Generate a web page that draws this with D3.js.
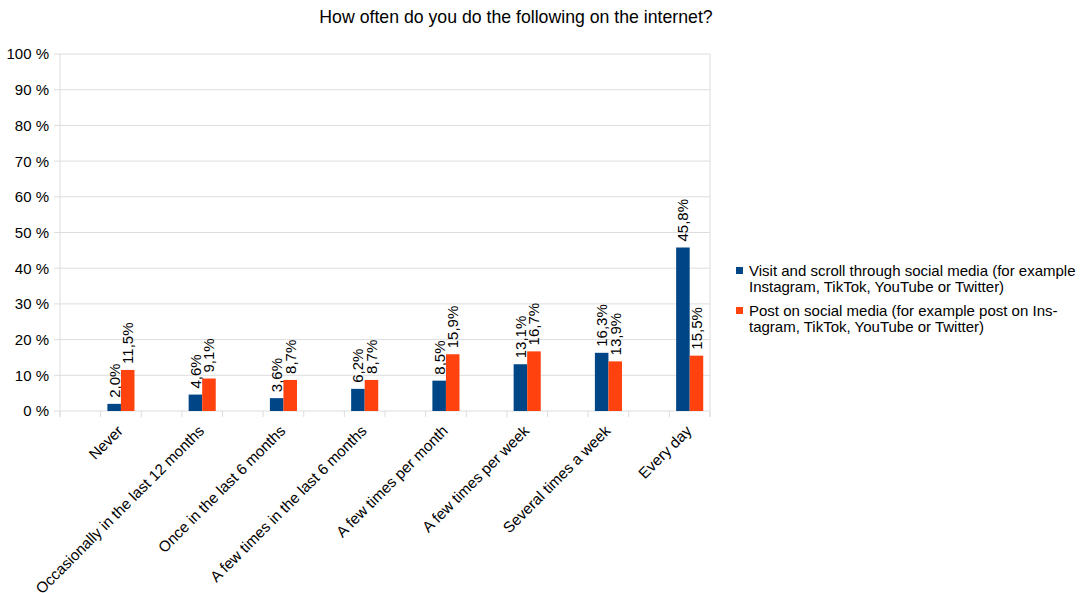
<!DOCTYPE html>
<html>
<head>
<meta charset="utf-8">
<script src="https://cdn.jsdelivr.net/npm/d3@7"></script>
<style>
  body { margin: 0; background: #fff; }
  text { font-family: "Liberation Sans", Arial, sans-serif; fill: #000; }
</style>
</head>
<body>
<svg id="chart" width="1088" height="593"></svg>
<script>
// data
var categories = ['Never', 'Occasionally in the last 12 months', 'Once in the last 6 months',
    'A few times in the last 6 months', 'A few times per month', 'A few times per week',
    'Several times a week', 'Every day']
var visitValues = [2.0, 4.6, 3.6, 6.2, 8.5, 13.1, 16.3, 45.8]
var postValues = [11.5, 9.1, 8.7, 8.7, 15.9, 16.7, 13.9, 15.5]
var yTicks = [0, 10, 20, 30, 40, 50, 60, 70, 80, 90, 100]
var seriesNames = [
    ['Visit and scroll through social media (for example', 'Instagram, TikTok, YouTube or Twitter)'],
    ['Post on social media (for example post on Ins-', 'tagram, TikTok, YouTube or Twitter)']
]
var seriesColors = ['#004586', '#ff420e']
var title = 'How often do you do the following on the internet?'

var svg = d3.select('#chart')

var plotLeft = 60, plotRight = 710, plotTop = 54, plotBottom = 411

// the x axis is cut in slots, two per category, bars sit in the second one
var slots = d3.range(categories.length * 2 + 1)
var xSlot = d3.scaleLinear().domain([0, categories.length * 2]).range([plotLeft, plotRight])
var slotW = xSlot(1) - xSlot(0)
function catCenter(i) { return xSlot(2 * i + 1.5) }

var yScale = d3.scaleLinear().domain([0, 100]).range([plotBottom, plotTop])

// title
svg.append('text')
    .attr('x', 516)
    .attr('y', 23)
    .attr('text-anchor', 'middle')
    .style('font-size', '17.7px')
    .text(title)

// grid
svg.append('g').selectAll('line').data(yTicks).enter().append('line')
    .attr('x1', plotLeft - 6)
    .attr('x2', plotRight)
    .attr('y1', d => yScale(d))
    .attr('y2', d => yScale(d))
    .attr('stroke', '#dddddd')
    .attr('stroke-width', 1)

// vertical frame lines
svg.append('line').attr('x1', plotLeft).attr('x2', plotLeft).attr('y1', plotTop).attr('y2', plotBottom + 6)
    .attr('stroke', '#dddddd')
svg.append('line').attr('x1', plotRight).attr('x2', plotRight).attr('y1', plotTop).attr('y2', plotBottom + 6)
    .attr('stroke', '#dddddd')

// x tick marks
svg.append('g').selectAll('line').data(slots).enter().append('line')
    .attr('x1', d => xSlot(d))
    .attr('x2', d => xSlot(d))
    .attr('y1', plotBottom)
    .attr('y2', plotBottom + 6)
    .attr('stroke', '#dddddd')

// y labels
svg.append('g').selectAll('text').data(yTicks).enter().append('text')
    .attr('x', plotLeft - 11)
    .attr('y', d => yScale(d))
    .attr('dy', '0.36em')
    .attr('text-anchor', 'end')
    .style('font-size', '15px')
    .text(d => d + ' %')

// bars
var barW = slotW / 3
var seriesValues = [visitValues, postValues]
seriesValues.forEach(function (vals, s) {
    var g = svg.append('g')
    vals.forEach(function (v, i) {
        var x0 = catCenter(i) - barW + s * barW
        g.append('rect')
            .attr('x', x0)
            .attr('y', yScale(v))
            .attr('width', barW)
            .attr('height', yScale(0) - yScale(v))
            .attr('fill', seriesColors[s])
        g.append('text')
            .attr('transform', `translate(${x0 + barW / 2}, ${yScale(v) - 6}) rotate(-90)`)
            .attr('dy', '0.36em')
            .style('font-size', '15px')
            .text(v.toFixed(1).replace('.', ',') + '%')
    })
})

// x labels
svg.append('g').selectAll('text').data(categories).enter().append('text')
    .attr('transform', (d, i) => `translate(${catCenter(i) - 1}, ${plotBottom + 17}) rotate(-45)`)
    .attr('text-anchor', 'end')
    .attr('dy', '0.36em')
    .style('font-size', '15.2px')
    .text(d => d)

// legend
var legendY = [270, 310]
seriesNames.forEach(function (lines, s) {
    var lg = svg.append('g').attr('transform', `translate(736, ${legendY[s]})`)
    lg.append('rect').attr('x', 0).attr('y', -3).attr('width', 7).attr('height', 7)
        .attr('fill', seriesColors[s])
    lines.forEach(function (t, k) {
        lg.append('text')
            .attr('x', 13)
            .attr('y', 6 + k * 16)
            .style('font-size', '15px')
            .text(t)
    })
})
</script>
</body>
</html>
